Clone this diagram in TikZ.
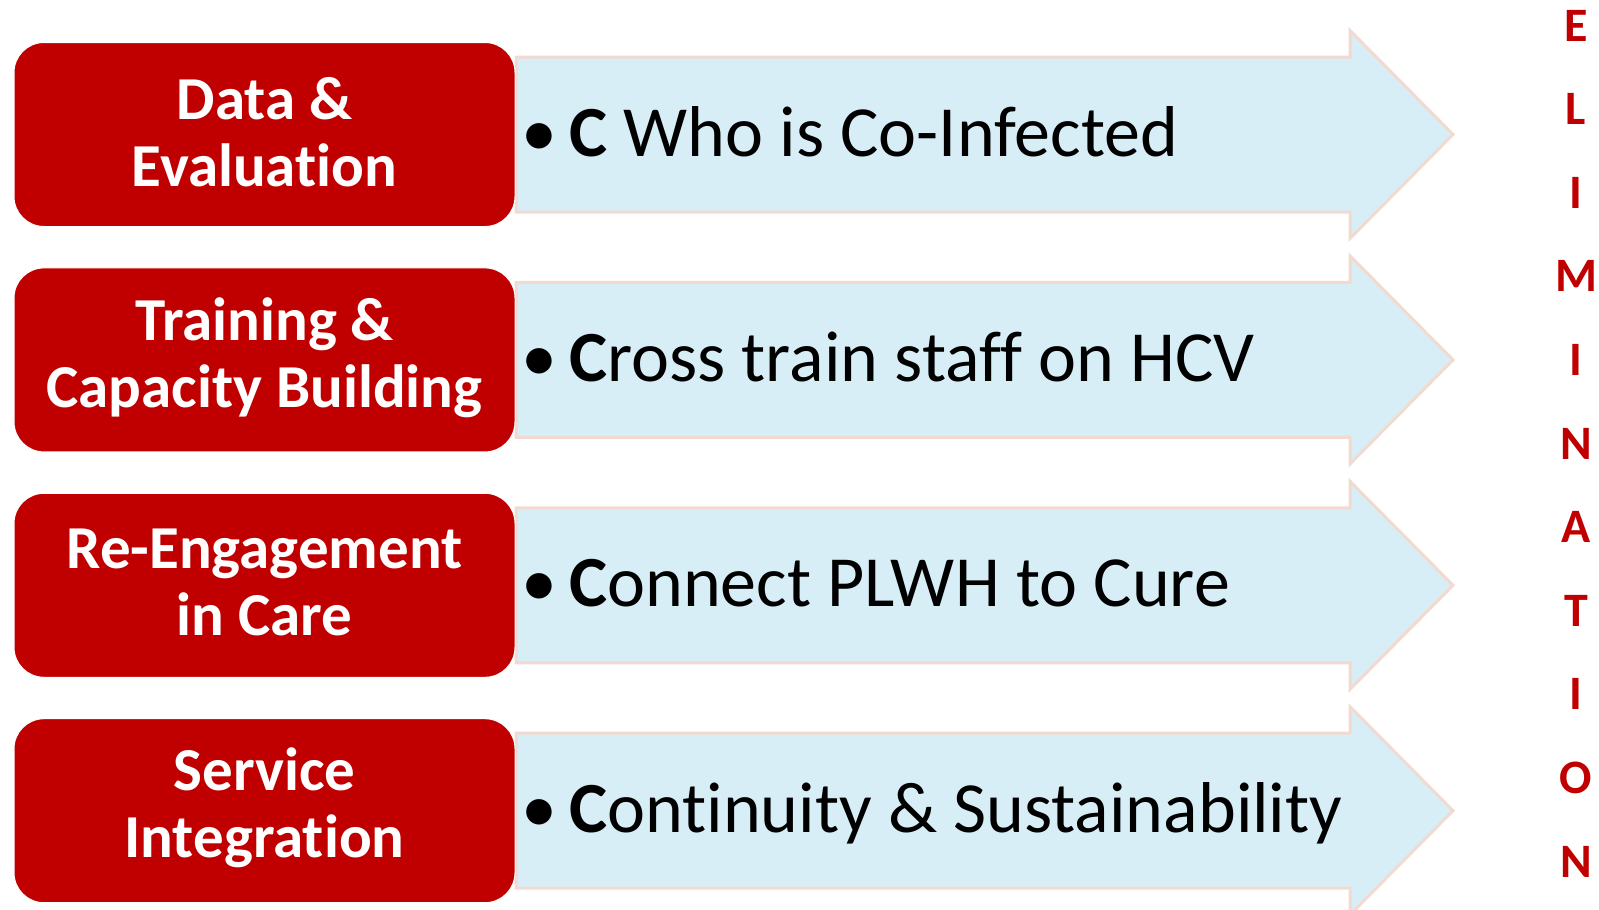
\documentclass[tikz,border=0pt]{standalone}
\usepackage{fontspec}
\setmainfont{Carlito}[Ligatures=NoCommon]
\usepackage{xcolor}
\usetikzlibrary{positioning}

\definecolor{stagered}{HTML}{C00000}
\definecolor{arrowblue}{HTML}{D7EEF7}
\definecolor{arrowedge}{HTML}{F2DAD0}

\begin{document}
\begin{tikzpicture}[
		x=1pt,y=-1pt,
		stage/.style={rectangle,draw=white,line width=1pt,fill=stagered,rounded corners=30pt,
			minimum width=501pt,minimum height=184pt,inner sep=0pt,text=white,
			font=\fontsize{61}{67}\selectfont\bfseries,align=center},
		chevron/.style={draw=arrowedge,fill=arrowblue,line width=3pt,line join=miter},
		point/.style={anchor=base west,inner sep=0pt,font=\fontsize{72}{76}\selectfont},
		letter/.style={inner sep=0pt,text=stagered,font=\fontsize{48}{48}\selectfont\bfseries},
		]
		\useasboundingbox (0,0) rectangle (1599,910);
		
		% row 1
		\begin{scope}[yshift=-134.5pt]
			\draw[chevron] (516,-77.5) -- (1350,-77.5) -- (1350,-104) -- (1453,0)
			-- (1350,104) -- (1350,77.5) -- (516,77.5) -- cycle;
			\node[stage] (data) at (264.5,0) {};
			\node[text=white,font=\fontsize{61}{67}\selectfont\bfseries,align=center] (datatxt) at (264.5,-2.5) {Data \&\\Evaluation};
			\node[point] (dataC) at (521,21.5) {\makebox[48pt][l]{•}\textbf{C} Who is Co-Infected};
		\end{scope}
		
		% row 2
		\begin{scope}[yshift=-359.9pt]
			\draw[chevron] (516,-77.5) -- (1350,-77.5) -- (1350,-104) -- (1453,0)
			-- (1350,104) -- (1350,77.5) -- (516,77.5) -- cycle;
			\node[stage] (train) at (264.5,0) {};
			\node[text=white,font=\fontsize{61}{67}\selectfont\bfseries,align=center] (traintxt) at (264.5,-2.5) {Training \&\\Capacity Building};
			\node[point] (trainC) at (521,21.5) {\makebox[48pt][l]{•}\textbf{C}ross train staff on HCV};
		\end{scope}
		
		% row 3
		\begin{scope}[yshift=-585.3pt]
			\draw[chevron] (516,-77.5) -- (1350,-77.5) -- (1350,-104) -- (1453,0)
			-- (1350,104) -- (1350,77.5) -- (516,77.5) -- cycle;
			\node[stage] (engage) at (264.5,0) {};
			\node[text=white,font=\fontsize{61}{67}\selectfont\bfseries,align=center] (engagetxt) at (264.5,-2.5) {Re-Engagement\\in Care};
			\node[point] (engageC) at (521,21.5) {\makebox[48pt][l]{•}\textbf{C}onnect PLWH to Cure};
		\end{scope}
		
		% row 4
		\begin{scope}[yshift=-810.7pt]
			\draw[chevron] (516,-77.5) -- (1350,-77.5) -- (1350,-104) -- (1453,0)
			-- (1350,104) -- (1350,77.5) -- (516,77.5) -- cycle;
			\node[stage] (integ) at (264.5,0) {};
			\node[text=white,font=\fontsize{61}{67}\selectfont\bfseries,align=center] (integtxt) at (264.5,-2.5) {Service\\Integration};
			\node[point] (integC) at (521,21.5) {\makebox[48pt][l]{•}\textbf{C}ontinuity \& Sustainability};
		\end{scope}
		
		% vertical word on the right
		\node[letter] (l1) at (1576,25.5) {E};
		\node[letter] (l2) at (1576,109.1) {L};
		\node[letter] (l3) at (1576,192.7) {I};
		\node[letter] (l4) at (1576,276.3) {M};
		\node[letter] (l5) at (1576,359.9) {I};
		\node[letter] (l6) at (1576,443.5) {N};
		\node[letter] (l7) at (1576,527.1) {A};
		\node[letter] (l8) at (1576,610.7) {T};
		\node[letter] (l9) at (1576,694.3) {I};
		\node[letter] (l10) at (1576,777.9) {O};
		\node[letter] (l11) at (1576,861.5) {N};
	\end{tikzpicture}
\end{document}
